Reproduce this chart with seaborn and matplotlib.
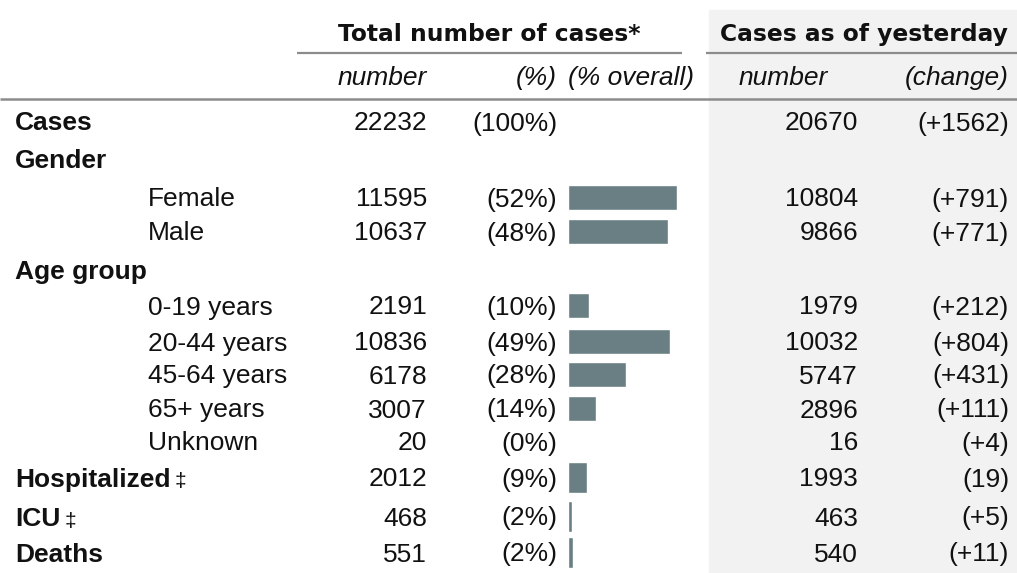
import numpy as np
import pandas as pd
import matplotlib
matplotlib.use("Agg")
import matplotlib.pyplot as plt
from matplotlib.patches import Rectangle
import seaborn as sns

# table content
row_labels = ["Cases", "Gender", "Female", "Male", "Age group", "0-19 years",
              "20-44 years", "45-64 years", "65+ years", "Unknown",
              "Hospitalized", "ICU", "Deaths"]
label_marks = ["", "", "", "", "", "", "", "", "", "", "\u2021", "\u2021", ""]
indented = [False, False, True, True, False, True, True, True, True, True,
            False, False, False]
total_cases = [22232, None, 11595, 10637, None, 2191, 10836, 6178, 3007, 20,
               2012, 468, 551]
yesterday_cases = [20670, None, 10804, 9866, None, 1979, 10032, 5747, 2896, 16,
                   1993, 463, 540]
yesterday_change = ["+1562", None, "+791", "+771", None, "+212", "+804", "+431",
                    "+111", "+4", "19", "+5", "+11"]
show_bar = [False, False, True, True, False, True, True, True, True, True,
            True, True, True]

# layout (pixel rows of the table, cap centres)
row_y = [121, 159, 197, 231, 269, 305, 341, 374, 408, 441, 477, 516, 552]
W, H = 1017, 573
BAR_COLOR = "#6a7f83"
LINE_COLOR = "#8c8c8c"
TXT = "#111111"

sns.set_theme(style="white")
plt.rcParams["font.family"] = ["Liberation Sans", "DejaVu Sans"]

fig = plt.figure(figsize=(W / 100, H / 100), dpi=100)
ax = fig.add_axes([0, 0, 1, 1])
ax.set_xlim(0, W)
ax.set_ylim(H, 0)
ax.axis("off")

# shaded "yesterday" panel
ax.add_patch(Rectangle((709, 10), W - 709, H - 10, color="#f2f2f2", zorder=0))

# header lines
ax.plot([297, 682], [53, 53], color=LINE_COLOR, lw=1.6, solid_capstyle="butt")
ax.plot([706, W], [53, 53], color=LINE_COLOR, lw=1.6, solid_capstyle="butt")
ax.plot([0, W], [99, 99], color=LINE_COLOR, lw=1.8, solid_capstyle="butt")

head = dict(family=["DejaVu Sans"], fontweight="bold", fontsize=16.8, color=TXT)
ax.text(489, 41, "Total number of cases*", ha="center", va="baseline", **head)
ax.text(864, 41, "Cases as of yesterday", ha="center", va="baseline", **head)

sub = dict(fontsize=19, style="italic", color=TXT, va="baseline")
ax.text(427, 85, "number", ha="right", **sub)
ax.text(557, 85, "(%)", ha="right", **sub)
ax.text(694, 85, "(% overall)", ha="right", **sub)
ax.text(828, 85, "number", ha="right", **sub)
ax.text(1009, 85, "(change)", ha="right", **sub)

total = total_cases[0]
pct = [np.nan if v is None else v / total * 100 for v in total_cases]

for i, lab in enumerate(row_labels):
    base = row_y[i] + 9.5
    if indented[i]:
        ax.text(148, base, lab, fontsize=19, color=TXT, va="baseline")
    else:
        t = ax.text(15, base, lab, fontsize=19, fontweight="bold", color=TXT,
                    va="baseline")
        if label_marks[i]:
            ax.annotate(label_marks[i], xy=(1, 0), xycoords=t,
                        xytext=(3, 0), textcoords="offset points",
                        fontsize=15, color=TXT, va="bottom")
    if total_cases[i] is not None:
        ax.text(427, base, f"{total_cases[i]}", fontsize=19, color=TXT,
                ha="right", va="baseline")
        ax.text(557, base, f"({pct[i]:.0f}%)", fontsize=19, color=TXT,
                ha="right", va="baseline")
    if yesterday_cases[i] is not None:
        ax.text(858, base, f"{yesterday_cases[i]}", fontsize=19, color=TXT,
                ha="right", va="baseline")
        ax.text(1009, base, f"({yesterday_change[i]})", fontsize=19, color=TXT,
                ha="right", va="baseline")

# "% overall" bars on their own axis (0-100 % over ~209 px)
bx = fig.add_axes([568 / W, 0, 209 / W, 1])
bx.patch.set_alpha(0)
df = pd.DataFrame({"row": row_labels, "pct": pct, "y": row_y, "bar": show_bar})
df = df[df["bar"]]
upper = df[df["y"] < 460]
lower = df[df["y"] >= 460]
for part, px_h in [(upper, 25), (lower, 31)]:
    step = np.diff(np.unique(part["y"])).min()
    sns.barplot(data=part, x="pct", y="y", orient="y", native_scale=True,
                width=px_h / step, color=BAR_COLOR, saturation=1,
                errorbar=None, ax=bx)
bx.set_xlim(0, 100)
bx.set_ylim(H, 0)
bx.axis("off")

fig.savefig("out.png", dpi=100)
